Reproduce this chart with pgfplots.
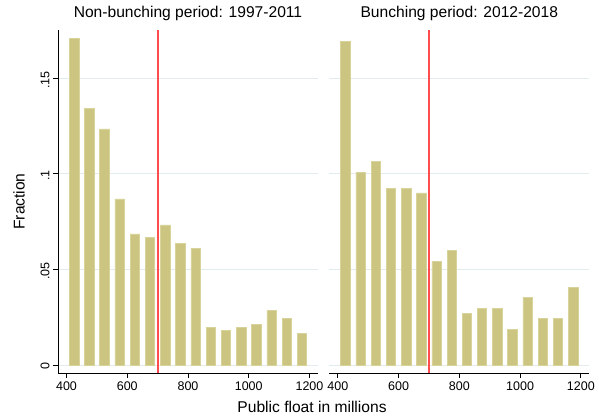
\documentclass[border=0pt]{standalone}
\usepackage{fontspec}
\setmainfont{Liberation Sans}
\usepackage{pgfplots}
\pgfplotsset{compat=1.18}
\definecolor{barfill}{RGB}{204,197,130}
\definecolor{baredge}{RGB}{216,210,155}
\definecolor{gridc}{RGB}{226,236,239}
\pgfplotsset{
  panel/.style={
    scale only axis, width=260pt, height=343pt,
    xmin=372, xmax=1228, ymin=-0.0042, ymax=0.1753,
    axis x line*=bottom, axis y line*=left,
    axis line style={black, line width=0.8pt},
    xtick={400,600,800,1000,1200},
    ytick={0,0.05,0.1,0.15},
    yticklabels={0,.05,.1,.15},
    tick align=outside, major tick length=5pt,
    tick style={black, line width=0.8pt},
    ymajorgrids, grid style={gridc, line width=0.8pt},
    /pgf/number format/assume math mode=true,
    /pgf/number format/1000 sep={},
    ticklabel style={font=\fontsize{12.5}{14}\selectfont},
    yticklabel style={rotate=90, anchor=south, xshift=-1.5pt},
    title style={font=\fontsize{15.6}{18}\selectfont, at={(axis description cs:0.5,1)}, anchor=base, yshift=6.7pt},
    clip=false,
  },
  hbar/.style={ybar, bar width=31, bar shift=0pt, fill=barfill, draw=baredge, line width=0.6pt},
  cutoff/.style={draw=red!70, line width=1.9pt, mark=none, solid},
}
\begin{document}
\begin{tikzpicture}[x=1pt,y=1pt]
\useasboundingbox (0,0) rectangle (599,417);
\begin{axis}[panel, at={(58pt,44pt)}, anchor=south west,
  title={Non-bunching period: 1997-2011},
  ylabel={Fraction},
  ylabel style={font=\fontsize{15.6}{18}\selectfont, at={(axis description cs:-0.15,0.5)}, anchor=center},
  xlabel={Public float in millions},
  xlabel style={font=\fontsize{15.6}{18}\selectfont, at={(axis description cs:0.977,-0.1166)}, anchor=base},
]
\addplot[hbar] coordinates {
(425,0.1710) (475,0.1343) (525,0.1235) (575,0.0869) (625,0.0686) (675,0.0668)
(725,0.0733) (775,0.0638) (825,0.0610) (875,0.0197) (925,0.0181) (975,0.0197)
(1025,0.0213) (1075,0.0286) (1125,0.0242) (1175,0.0166)};
\addplot[cutoff] coordinates {(700,-0.0042) (700,0.1753)};
\end{axis}
\begin{axis}[panel, at={(329.3pt,44pt)}, anchor=south west,
  title={Bunching period: 2012-2018},
  y axis line style={draw=none},
  ytick style={draw=none},
  yticklabels={},
]
\addplot[hbar] coordinates {
(425,0.1694) (475,0.1008) (525,0.1066) (575,0.0926) (625,0.0926) (675,0.0900)
(725,0.0543) (775,0.0600) (825,0.0270) (875,0.0297) (925,0.0297) (975,0.0188)
(1025,0.0354) (1075,0.0244) (1125,0.0244) (1175,0.0407)};
\addplot[cutoff] coordinates {(700,-0.0042) (700,0.1753)};
\end{axis}
\end{tikzpicture}
\end{document}
